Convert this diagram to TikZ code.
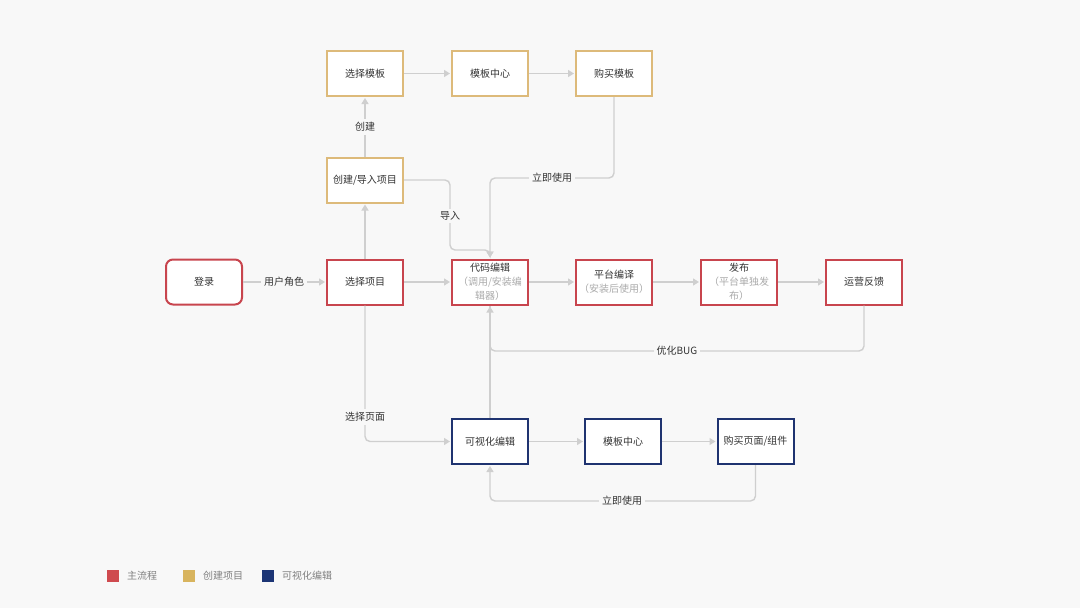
\documentclass[tikz,border=0pt]{standalone}
\usepackage{fontspec}
\setmainfont{Noto Sans CJK SC}
\usetikzlibrary{arrows.meta}
\definecolor{bgc}{HTML}{F8F8F8}
\definecolor{mainred}{HTML}{C8454E}
\definecolor{creategold}{HTML}{DDBA7A}
\definecolor{visblue}{HTML}{1F3370}
\definecolor{legred}{HTML}{CF4A4F}
\definecolor{leggold}{HTML}{D8B45E}
\definecolor{legblue}{HTML}{1C3575}
\definecolor{linec}{HTML}{CFCFCF}
\definecolor{txt}{HTML}{333333}
\definecolor{subtxt}{HTML}{ABABAB}
\definecolor{legtxt}{HTML}{808080}
\begin{document}
\begin{tikzpicture}[x=1pt,y=-1pt,
  box/.style={draw, fill=white, line width=2pt, minimum width=76pt, minimum height=45pt, inner sep=0pt, font=\fontsize{10}{14}\selectfont, text=txt, align=center},
  redbox/.style={box, draw=mainred},
  goldbox/.style={box, draw=creategold},
  bluebox/.style={box, draw=visblue},
  conn/.style={draw=linec, line width=1.4pt, -{Triangle[width=7pt,length=6pt]}, shorten >=1pt, rounded corners=5pt},
  plain/.style={draw=linec, line width=1.4pt, rounded corners=5pt},
  lbl/.style={fill=bgc, text=txt, font=\fontsize{10}{12}\selectfont, inner sep=3pt},
  legtext/.style={anchor=west, text=legtxt, font=\fontsize{10}{12}\selectfont, inner sep=0pt}]
\fill[bgc] (0,0) rectangle (1080,608);
\useasboundingbox (0,0) rectangle (1080,608);

% top row
\node[goldbox] (seltpl) at (365,73.5) {选择模板};
\node[goldbox] (tplc) at (490,73.5) {模板中心};
\node[goldbox] (buytpl) at (614,73.5) {购买模板};
\node[goldbox] (cim) at (365,180) {创建/导入项目};

% main row
\node[redbox, rounded corners=7pt] (login) at (204,282) {登录};
\node[redbox] (selproj) at (365,282) {选择项目};
\node[redbox] (code) at (490,282) {代码编辑\\{\color{subtxt}（调用/安装编}\\{\color{subtxt}辑器）}};
\node[redbox] (compile) at (614,282) {平台编译\\{\color{subtxt}（安装后使用）}};
\node[redbox] (pub) at (739,282) {发布\\{\color{subtxt}（平台单独发}\\{\color{subtxt}布）}};
\node[redbox] (ops) at (864,282) {运营反馈};

% bottom row
\node[bluebox] (vis) at (490,441.5) {可视化编辑};
\node[bluebox] (tplc2) at (623,441.5) {模板中心};
\node[bluebox] (buypg) at (755.5,441.5) {购买页面/组件};

% connectors
\draw[conn] (login) -- (selproj);
\draw[conn] (selproj) -- (code);
\draw[conn] (selproj) -- (cim);
\draw[conn] (cim) -- (seltpl);
\draw[conn] (seltpl) -- (tplc);
\draw[conn] (tplc) -- (buytpl);
\coordinate (c1) at (490,178);
\draw[conn] (buytpl.south) |- (c1) -- (code.north);
\coordinate (c2) at (450,250);
\draw[conn] (cim.east) -| (c2) -| (code.north);
\draw[conn] (code) -- (compile);
\draw[conn] (compile) -- (pub);
\draw[conn] (pub) -- (ops);
\coordinate (c3) at (490,351);
\draw[conn] (ops.south) |- (c3) -- (code.south);
\draw[plain] (vis.north) -- (code.south);
\coordinate (c4) at (365,441.5);
\draw[conn] (selproj.south) -- (c4) -- (vis.west);
\draw[conn] (vis) -- (tplc2);
\draw[conn] (tplc2) -- (buypg);
\coordinate (c5) at (490,501);
\draw[conn] (buypg.south) |- (c5) -- (vis.south);

% labels
\node[lbl] (l1) at (284,282) {用户角色};
\node[lbl] (l2) at (365,127) {创建};
\node[lbl] (l3) at (552,178) {立即使用};
\node[lbl] (l4) at (450,216) {导入};
\node[lbl] (l5) at (677,351) {优化BUG};
\node[lbl] (l6) at (365,417) {选择页面};
\node[lbl] (l7) at (622,501) {立即使用};

% legend
\fill[legred] (107,570) rectangle (119,582);
\node[legtext] (g1) at (127,576) {主流程};
\fill[leggold] (183,570) rectangle (195,582);
\node[legtext] (g2) at (203,576) {创建项目};
\fill[legblue] (262,570) rectangle (274,582);
\node[legtext] (g3) at (282,576) {可视化编辑};
\end{tikzpicture}
\end{document}
